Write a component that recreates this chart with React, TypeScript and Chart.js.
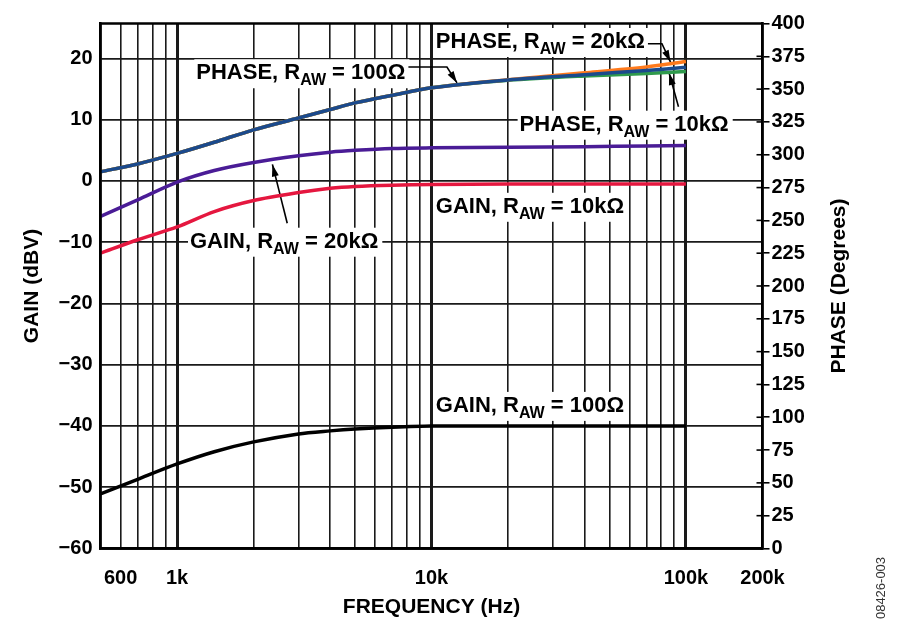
import React, { useEffect, useRef } from 'react';
import Chart from 'chart.js/auto';

const FONT = '"Liberation Sans", Arial, Helvetica, sans-serif';

// frequencies (Hz) where the curves were read
const FREQ = [500, 700, 1000, 1400, 2000, 3000, 4000, 5000, 7000, 10000, 20000, 40000, 70000, 100000];

// gain, dBV (left axis)
const GAIN_100 = [-51.1, -48.7, -46.2, -44.2, -42.6, -41.3, -40.8, -40.5, -40.2, -40.0, -40.0, -40.0, -40.0, -40.0];
const GAIN_10K = [-11.8, -9.6, -7.5, -5.0, -3.2, -1.9, -1.2, -0.9, -0.7, -0.6, -0.5, -0.5, -0.5, -0.5];
const GAIN_20K = [-5.8, -3.1, -0.2, 1.7, 3.0, 4.1, 4.7, 5.0, 5.3, 5.4, 5.5, 5.6, 5.7, 5.8];

// phase, degrees (right axis)
const PHASE_100 = [287, 293, 301, 309.5, 319, 328, 334.5, 339.5, 345.3, 351, 357, 361, 364.2, 366.6];
const PHASE_10K = [287, 293, 301, 309.5, 319, 328, 334.5, 339.5, 345.3, 351, 356.7, 360, 361.9, 363.4];
const PHASE_20K = [287, 293, 301, 309.5, 319, 328, 334.5, 339.5, 345.3, 351, 357.2, 362.4, 366.9, 371];

// grid lines on the frequency axis and the labelled ones
const FREQ_GRID = [
  500, 600, 700, 800, 900,
  1000, 2000, 3000, 4000, 5000, 6000, 7000, 8000, 9000,
  10000, 20000, 30000, 40000, 50000, 60000, 70000, 80000, 90000,
  100000, 200000,
];
const DECADES = [1000, 10000, 100000];
const FREQ_TICK_VALUES = [600, 1000, 10000, 100000, 200000];
const FREQ_TICK_LABELS = ['600', '1k', '10k', '100k', '200k'];

const GAIN_MIN = -60;
const GAIN_MAX = 25.7;
const PHASE_MIN = 0;
const PHASE_MAX = 400;

// callouts, anchored in (frequency, gain) units
type Note = { pre: string; post: string; f: number; g: number; lead?: number; path?: number[][] };
const NOTES: Note[] = [
  { pre: 'PHASE, R', post: ' = 100Ω', f: 1190, g: 16.6, lead: 18.6, path: [[11500, 18.6], [12600, 16.0]] },
  { pre: 'PHASE, R', post: ' = 20kΩ', f: 10400, g: 21.7, lead: 22.4, path: [[80500, 22.4], [87000, 19.4]] },
  { pre: 'PHASE, R', post: ' = 10kΩ', f: 22200, g: 8.2, path: [[93500, 12.1], [85900, 17.6]] },
  { pre: 'GAIN, R', post: ' = 10kΩ', f: 10400, g: -5.2 },
  { pre: 'GAIN, R', post: ' = 20kΩ', f: 1124, g: -10.9, path: [[2710, -6.9], [2370, 2.7]] },
  { pre: 'GAIN, R', post: ' = 100Ω', f: 10400, g: -37.7 },
];

const arrowHead = (ctx: CanvasRenderingContext2D, x0: number, y0: number, x1: number, y1: number) => {
  const a = Math.atan2(y1 - y0, x1 - x0);
  const len = 12;
  const w = 3.5;
  ctx.beginPath();
  ctx.moveTo(x1, y1);
  ctx.lineTo(x1 - len * Math.cos(a) + w * Math.sin(a), y1 - len * Math.sin(a) - w * Math.cos(a));
  ctx.lineTo(x1 - len * Math.cos(a) - w * Math.sin(a), y1 - len * Math.sin(a) + w * Math.cos(a));
  ctx.closePath();
  ctx.fill();
};

const notesPlugin = {
  id: 'notes',
  beforeDatasetsDraw(chart: any) {
    const { ctx, scales } = chart;
    const sx = scales.x;
    const sy = scales.y;
    ctx.save();
    NOTES.forEach((n) => {
      const x = sx.getPixelForValue(n.f);
      const base = sy.getPixelForValue(n.g);
      ctx.font = `bold 22px ${FONT}`;
      const w1 = ctx.measureText(n.pre).width;
      const w3 = ctx.measureText(n.post).width;
      ctx.font = `bold 16px ${FONT}`;
      const w2 = ctx.measureText('AW').width;
      const total = w1 + w2 + w3;

      ctx.fillStyle = '#fff';
      ctx.fillRect(x - 2, base - 20, total + 6, 29);

      ctx.fillStyle = '#000';
      ctx.textBaseline = 'alphabetic';
      ctx.textAlign = 'left';
      ctx.font = `bold 22px ${FONT}`;
      ctx.fillText(n.pre, x, base);
      ctx.font = `bold 16px ${FONT}`;
      ctx.fillText('AW', x + w1, base + 6);
      ctx.font = `bold 22px ${FONT}`;
      ctx.fillText(n.post, x + w1 + w2, base);

      if (n.path) {
        const pts: number[][] = n.path.map((p) => [sx.getPixelForValue(p[0]), sy.getPixelForValue(p[1])]);
        if (n.lead !== undefined) pts.unshift([x + total + 3, sy.getPixelForValue(n.lead)]);
        ctx.strokeStyle = '#000';
        ctx.lineWidth = 1.6;
        ctx.beginPath();
        pts.forEach((p, i) => (i === 0 ? ctx.moveTo(p[0], p[1]) : ctx.lineTo(p[0], p[1])));
        ctx.stroke();
        const a = pts[pts.length - 2];
        const b = pts[pts.length - 1];
        arrowHead(ctx, a[0], a[1], b[0], b[1]);
      }
    });
    ctx.restore();
  },
  afterDraw(chart: any) {
    const { ctx, chartArea: a, scales } = chart;
    ctx.save();
    // frame
    ctx.strokeStyle = '#000';
    ctx.lineWidth = 2.5;
    ctx.strokeRect(a.left, a.top, a.right - a.left, a.bottom - a.top);

    // phase ticks reaching into the plot
    ctx.lineWidth = 1.6;
    const s1 = scales.y1;
    for (let v = PHASE_MIN + 25; v < PHASE_MAX; v += 25) {
      const y = s1.getPixelForValue(v);
      ctx.beginPath();
      ctx.moveTo(a.right, y);
      ctx.lineTo(a.right - 6, y);
      ctx.stroke();
    }

    // axis titles
    const midY = (a.top + a.bottom) / 2;
    ctx.fillStyle = '#000';
    ctx.textAlign = 'center';
    ctx.textBaseline = 'middle';
    ctx.font = `bold 21px ${FONT}`;
    ctx.fillText('FREQUENCY (Hz)', (a.left + a.right) / 2, 607);
    ctx.save();
    ctx.translate(32, midY);
    ctx.rotate(-Math.PI / 2);
    ctx.fillText('GAIN (dBV)', 0, 0);
    ctx.restore();
    ctx.save();
    ctx.translate(839, midY);
    ctx.rotate(-Math.PI / 2);
    ctx.fillText('PHASE (Degrees)', 0, 0);
    ctx.restore();

    ctx.save();
    ctx.translate(881, 588);
    ctx.rotate(-Math.PI / 2);
    ctx.font = `13px ${FONT}`;
    ctx.fillStyle = '#333';
    ctx.fillText('08426-003', 0, 0);
    ctx.restore();
    ctx.restore();
  },
};

const series = (ys: number[]) => FREQ.map((f, i) => ({ x: f, y: ys[i] }));

const App = () => {
  const canvasRef = useRef<HTMLCanvasElement>(null);
  const chartRef = useRef<Chart | null>(null);

  useEffect(() => {
    if (chartRef.current) chartRef.current.destroy();
    const el = canvasRef.current;
    if (!el) return;

    const line = (label: string, ys: number[], color: string, axis: string) => ({
      label,
      data: series(ys),
      yAxisID: axis,
      borderColor: color,
      backgroundColor: color,
      borderWidth: 3.5,
      pointRadius: 0,
      tension: 0.3,
      fill: false,
    });

    const tickFont = { family: FONT, size: 20, weight: 'bold' as const };

    chartRef.current = new Chart(el, {
      type: 'line',
      data: {
        datasets: [
          line('PHASE, RAW = 100Ω', PHASE_100, '#1b4a8c', 'y1'),
          line('PHASE, RAW = 20kΩ', PHASE_20K, '#ff7a1c', 'y1'),
          line('PHASE, RAW = 10kΩ', PHASE_10K, '#2f9a4c', 'y1'),
          line('GAIN, RAW = 20kΩ', GAIN_20K, '#4a1c96', 'y'),
          line('GAIN, RAW = 10kΩ', GAIN_10K, '#e5173f', 'y'),
          line('GAIN, RAW = 100Ω', GAIN_100, '#000000', 'y'),
        ],
      },
      options: {
        animation: false,
        responsive: true,
        maintainAspectRatio: false,
        layout: { padding: { top: 23.5, left: 0, right: 0, bottom: 0 } },
        plugins: { legend: { display: false }, tooltip: { enabled: false } },
        scales: {
          x: {
            type: 'logarithmic',
            min: 500,
            max: 200000,
            afterBuildTicks: (s: any) => {
              s.ticks = FREQ_GRID.map((v) => ({ value: v }));
            },
            afterFit: (s: any) => {
              s.height = 87.5;
            },
            grid: {
              color: '#1a1a1a',
              lineWidth: (c: any) => {
                const v = c.tick ? c.tick.value : 0;
                if (v === 500 || v === 200000) return 0;
                return DECADES.includes(v) ? 3 : 1.6;
              },
              drawTicks: false,
            },
            border: { display: true, color: '#000', width: 2.5 },
            ticks: {
              autoSkip: false,
              maxRotation: 0,
              padding: 18,
              color: '#000',
              font: tickFont,
              callback: (v: any) => {
                const i = FREQ_TICK_VALUES.indexOf(Number(v));
                return i >= 0 ? FREQ_TICK_LABELS[i] : '';
              },
            },
          },
          y: {
            position: 'left',
            min: GAIN_MIN,
            max: GAIN_MAX,
            afterFit: (s: any) => {
              s.width = 100.5;
            },
            grid: { color: '#1a1a1a', lineWidth: 1.8, drawTicks: false },
            border: { display: true, color: '#000', width: 2.5 },
            ticks: {
              stepSize: 10,
              includeBounds: false,
              padding: 8,
              color: '#000',
              font: tickFont,
              callback: (v: any) => (Number(v) < 0 ? '\u2212' + Math.abs(Number(v)) : String(v)),
            },
          },
          y1: {
            position: 'right',
            min: PHASE_MIN,
            max: PHASE_MAX,
            afterFit: (s: any) => {
              s.width = 137.5;
            },
            grid: { drawOnChartArea: false, drawTicks: true, tickLength: 7, color: '#000', lineWidth: 1.6 },
            border: { display: true, color: '#000', width: 2.5 },
            ticks: {
              stepSize: 25,
              padding: 2,
              color: '#000',
              font: tickFont,
            },
          },
        },
      },
      plugins: [notesPlugin],
    });

    return () => {
      if (chartRef.current) {
        chartRef.current.destroy();
        chartRef.current = null;
      }
    };
  }, []);

  return (
    <div style={{ position: 'absolute', left: 0, top: 0, width: 900, height: 636, background: '#fff' }}>
      <canvas ref={canvasRef}></canvas>
    </div>
  );
};

export default App;
